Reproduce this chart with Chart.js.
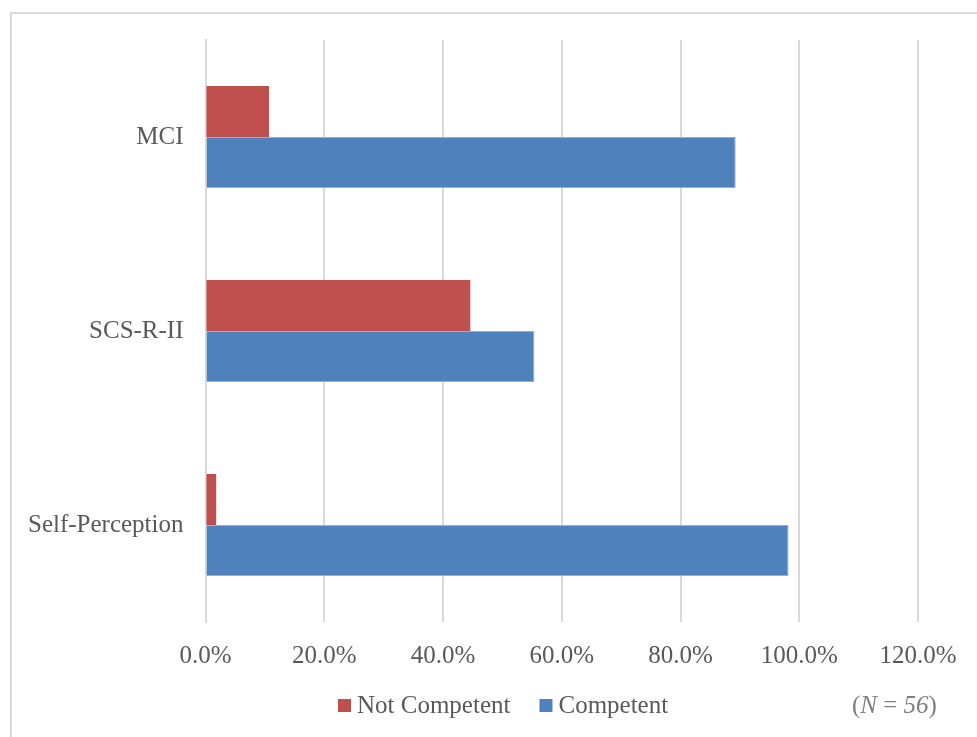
<!DOCTYPE html>
<html lang="en">
<head>
    <meta charset="UTF-8">
    <title>Competence by Measure</title>
    <script src="https://cdn.jsdelivr.net/npm/chart.js"></script>
    <style>
        html, body {
            margin: 0;
            padding: 0;
            background: #ffffff;
            overflow: hidden;
        }
        .frame {
            position: absolute;
            left: 10px;
            top: 12px;
            width: 1200px;
            height: 1000px;
            border: 2px solid #d9d9d9;
        }
        .wrap {
            position: absolute;
            left: 0;
            top: 0;
            width: 977px;
            height: 737px;
        }
    </style>
</head>
<body>
    <div class="frame"></div>
    <div class="wrap"><canvas id="competenceChart"></canvas></div>

    <script>
        // Share of respondents per measure (percent)
        const measures = ['MCI', 'SCS-R-II', 'Self-Perception'];
        const notCompetent = [10.7, 44.6, 1.8];
        const competent = [89.3, 55.4, 98.2];
        const axisMax = 120;
        const axisStep = 20;
        const sampleNote = ['(', 'N', ' = ', '56', ')'];

        const serif = '"Liberation Serif", "DejaVu Serif", serif';
        const textGray = '#595959';

        // legend row and the sample size note under the axis
        const footerPlugin = {
            id: 'footer',
            afterDraw(chart) {
                const ctx = chart.ctx;
                const y = 706;
                ctx.save();
                ctx.textBaseline = 'middle';
                ctx.font = '25px ' + serif;

                let x = 338;
                chart.data.datasets.forEach(ds => {
                    ctx.fillStyle = ds.backgroundColor;
                    ctx.fillRect(x, y - 7, 13, 13);
                    x += 13 + 6;
                    ctx.fillStyle = textGray;
                    ctx.fillText(ds.label, x, y);
                    x += ctx.measureText(ds.label).width + 29;
                });

                ctx.fillStyle = '#7f7f7f';
                x = 852;
                sampleNote.forEach((part, i) => {
                    const italic = i === 1 || i === 3;
                    ctx.font = (italic ? 'italic ' : '') + '25px ' + serif;
                    ctx.fillText(part, x, y);
                    x += ctx.measureText(part).width;
                });
                ctx.restore();
            }
        };

        const ctx = document.getElementById('competenceChart').getContext('2d');
        new Chart(ctx, {
            type: 'bar',
            data: {
                labels: measures,
                datasets: [
                    {
                        label: 'Not Competent',
                        data: notCompetent,
                        backgroundColor: '#C0504D',
                        borderWidth: 0
                    },
                    {
                        label: 'Competent',
                        data: competent,
                        backgroundColor: '#4F81BD',
                        borderColor: '#8fb0da',
                        borderWidth: 1
                    }
                ]
            },
            options: {
                indexAxis: 'y',
                responsive: true,
                maintainAspectRatio: false,
                animation: false,
                categoryPercentage: 0.525,
                barPercentage: 1.0,
                layout: {
                    padding: { left: 6, right: 59, top: 40, bottom: 47 }
                },
                scales: {
                    x: {
                        min: 0,
                        max: axisMax,
                        ticks: {
                            stepSize: axisStep,
                            padding: 19,
                            color: textGray,
                            font: { family: serif, size: 25 },
                            callback: value => value.toFixed(1) + '%'
                        },
                        grid: {
                            color: '#d9d9d9',
                            lineWidth: 2,
                            drawTicks: false
                        },
                        border: { display: false }
                    },
                    y: {
                        ticks: {
                            padding: 22,
                            color: textGray,
                            font: { family: serif, size: 25 }
                        },
                        grid: { display: false, drawTicks: false },
                        border: { display: true, color: '#d9d9d9', width: 2 }
                    }
                },
                plugins: {
                    legend: { display: false },
                    tooltip: { enabled: false }
                }
            },
            plugins: [footerPlugin]
        });
    </script>
</body>
</html>
